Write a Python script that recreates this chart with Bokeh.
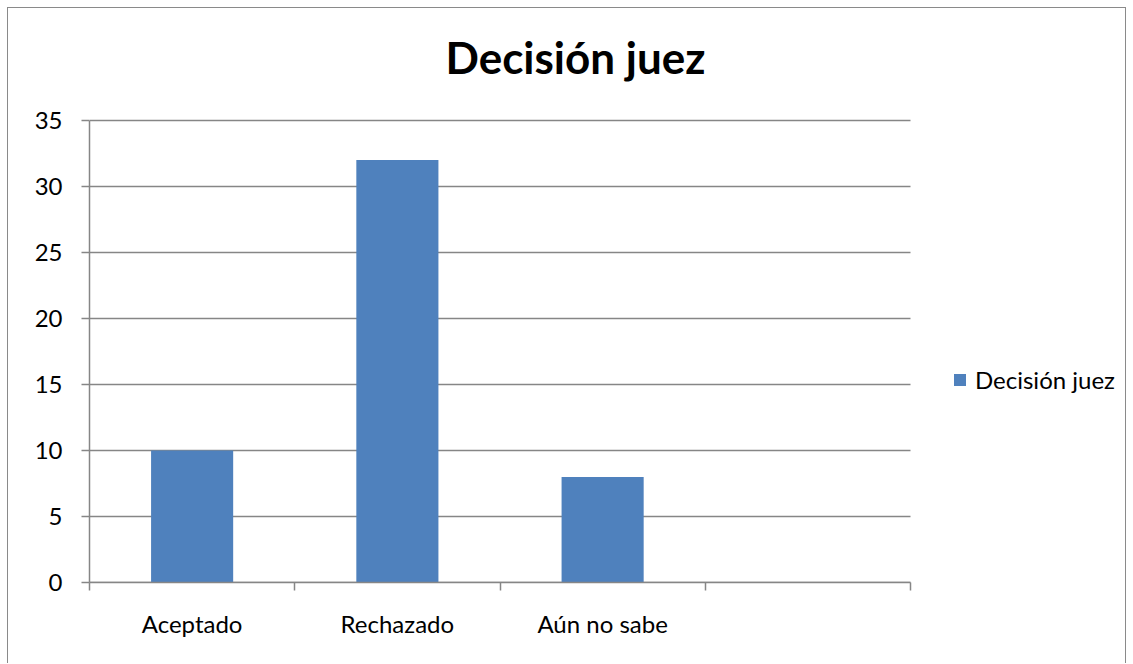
from bokeh.plotting import figure
from bokeh.models import Range1d, FixedTicker, Legend, LegendItem, ColumnDataSource, Label
from bokeh.embed import file_html
from bokeh.resources import INLINE

categories = ["Aceptado", "Rechazado", "Aún no sabe", ""]
values = [10, 32, 8]
series_name = "Decisión juez"
title_text = "Decisión juez"
y_ticks = [0, 5, 10, 15, 20, 25, 30, 35]

FONT = "Lato"
GRAY = "#868686"
BAR = "#4F81BD"

# layout (pixels): plot area 821 x 462 whose top-left is 81,112 inside the figure.
# The frame is extended right and up so that the legend and the title, drawn
# inside the frame, sit beside / above the plot area.
W, H = 1119, 656
LEFT, RIGHT, TOP, BOTTOM = 81, 10, 0, 82
AREA_W, AREA_H, AREA_TOP = 821, 462, 112
frame_w = W - LEFT - RIGHT
frame_h = H - TOP - BOTTOM
n = len(categories)
x_end = n * frame_w / AREA_W
y_top = y_ticks[-1]
y_end = y_top * frame_h / AREA_H
px_x = AREA_W / n          # pixels per category
px_y = AREA_H / y_top      # pixels per y unit

p = figure(width=W, height=H, output_backend="svg", toolbar_location=None,
           x_range=Range1d(0, x_end), y_range=Range1d(0, y_end),
           min_border_left=LEFT, min_border_right=RIGHT, min_border_top=TOP,
           min_border_bottom=BOTTOM)
p.title.visible = False
p.outline_line_color = None
p.background_fill_color = "white"
p.border_fill_color = "white"
p.styles = {"margin-left": "7px", "margin-top": "7px",
            "border-top": "1.5px solid #8a8a8a", "border-left": "1.5px solid #8a8a8a",
            "border-right": "1.5px solid #8a8a8a"}

# horizontal gridlines across the category area only
p.segment(x0=0, x1=n, y0=y_ticks, y1=y_ticks, line_color=GRAY, line_width=1.5)

centers = [i + 0.5 for i in range(n)]
src = ColumnDataSource(dict(x=centers[:len(values)], top=values))
r = p.vbar(x="x", top="top", width=0.4, bottom=0, source=src,
           fill_color=BAR, line_color=None)

# chart title, above the plot area
p.add_layout(Label(x=486 / px_x, y=y_top + 64 / px_y, text=title_text,
                   text_font=FONT, text_font_size="44px", text_font_style="bold",
                   text_color="black", text_align="center",
                   text_baseline="alphabetic"))

# x axis
xa = p.xaxis[0]
xa.bounds = (0, n)
xa.ticker = FixedTicker(ticks=centers, minor_ticks=list(range(n + 1)))
xa.major_label_overrides = {c: lab for c, lab in zip(centers, categories)}
xa.major_tick_in = 0
xa.major_tick_out = 0
xa.minor_tick_in = 0
xa.minor_tick_out = 8
xa.minor_tick_line_color = GRAY
xa.axis_line_color = GRAY
xa.axis_line_width = 1.5
xa.minor_tick_line_width = 1.5
xa.major_label_text_font = FONT
xa.major_label_text_font_size = "24px"
xa.major_label_text_color = "black"
xa.major_label_standoff = 18

# y axis
ya = p.yaxis[0]
ya.bounds = (0, y_top)
ya.ticker = FixedTicker(ticks=y_ticks, minor_ticks=[])
ya.major_tick_in = 0
ya.major_tick_out = 8
ya.major_tick_line_color = GRAY
ya.major_tick_line_width = 1.5
ya.axis_line_color = GRAY
ya.axis_line_width = 1.5
ya.major_label_text_font = FONT
ya.major_label_text_font_size = "24px"
ya.major_label_text_color = "black"
ya.major_label_standoff = 19

p.xgrid.visible = False
p.ygrid.visible = False

legend = Legend(items=[LegendItem(label=series_name, renderers=[r])],
                location=(863, 188), padding=0, margin=0, spacing=0,
                border_line_color=None, background_fill_alpha=0,
                glyph_width=15, glyph_height=15, label_standoff=8,
                label_text_font=FONT, label_text_font_size="24px",
                label_text_color="black")
p.add_layout(legend, "center")

open("out.html", "w").write(file_html(p, INLINE))
